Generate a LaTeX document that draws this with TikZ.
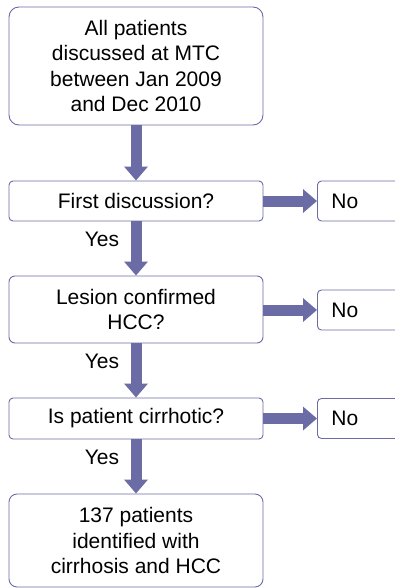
\documentclass[tikz,border=0pt]{standalone}
\usepackage{fontspec}
\setmainfont{Liberation Sans}
\usepackage{tikz}
\usetikzlibrary{arrows.meta,positioning}
\definecolor{flowBlue}{HTML}{6B6BA6}
\tikzstyle{boxStyle}=[shape = rectangle, draw = flowBlue, line width = 0.9pt, minimum width = 254pt, align = center, font = \fontsize{21}{25.5}\selectfont, inner sep = 0pt]
\tikzstyle{noStyle}=[shape = rectangle, draw = flowBlue, line width = 0.9pt, minimum height = 40pt, text width = 55pt, inner xsep = 14pt, align = left, rounded corners = 4pt, font = \fontsize{21}{25.5}\selectfont, anchor = west]
\tikzstyle{arrowStyle}=[draw = flowBlue, line width = 11pt, -{Triangle[width = 23pt, length = 14pt]}]

\begin{document}
\begin{tikzpicture}[x = 1pt, y = -1pt]
\tikzstyle{yesStyle}=[font = \fontsize{21}{25.5}\selectfont]
\useasboundingbox (0,0) rectangle (395,588);
\node[boxStyle, minimum height = 118pt, rounded corners = 10pt] (start) at (136,66) {All patients\\discussed at MTC\\between Jan 2009\\and Dec 2010};
\node[boxStyle, minimum height = 40pt, rounded corners = 4pt] (first) at (136,201) {First discussion?};
\node[boxStyle, minimum height = 67pt, rounded corners = 6pt] (lesion) at (136,309.5) {Lesion confirmed\\HCC?};
\node[boxStyle, minimum height = 41pt, rounded corners = 4pt] (cirrhotic) at (136,418.5) {Is patient cirrhotic?};
\node[boxStyle, minimum height = 93pt, rounded corners = 8pt] (result) at (136,540.5) {137 patients\\identified with\\cirrhosis and HCC};
\node[noStyle] (noFirst) at (317,201) {No};
\node[noStyle] (noLesion) at (317,310) {No};
\node[noStyle] (noCirrhotic) at (317,418.5) {No};
\node[yesStyle] (yesFirst) at (102,239) {Yes};
\node[yesStyle] (yesLesion) at (102,361) {Yes};
\node[yesStyle] (yesCirrhotic) at (102,457) {Yes};
\draw[arrowStyle] (start) -- (first);
\draw[arrowStyle] (first) -- (lesion);
\draw[arrowStyle] (lesion) -- (cirrhotic);
\draw[arrowStyle] (cirrhotic) -- (result);
\draw[arrowStyle] (first.east) -- (noFirst.west);
\draw[arrowStyle] (lesion.east |- noLesion.west) -- (noLesion.west);
\draw[arrowStyle] (cirrhotic.east) -- (noCirrhotic.west);
\end{tikzpicture}
\end{document}
